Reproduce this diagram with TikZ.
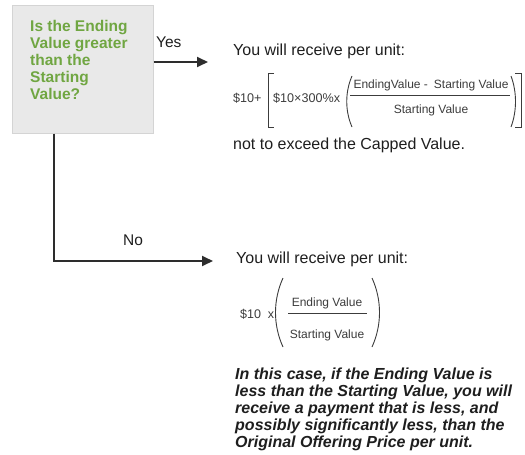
\documentclass[tikz,border=0pt]{standalone}
\usepackage{fontspec}
\setmainfont{Liberation Sans}
\usetikzlibrary{arrows.meta}
\definecolor{qgreen}{RGB}{112,166,66}
\definecolor{boxfill}{RGB}{233,233,233}
\definecolor{boxline}{RGB}{212,212,212}
\definecolor{ink}{RGB}{30,30,30}
\definecolor{fink}{RGB}{60,60,60}
\definecolor{arrowink}{RGB}{45,45,45}
\begin{document}
\begin{tikzpicture}[x=1pt,y=-1pt,inner sep=0pt,
  maintext/.style={font=\fontsize{16}{17}\selectfont, text=ink, inner sep=0pt},
  lbltext/.style={font=\fontsize{15.5}{17}\selectfont, text=ink, inner sep=0pt},
  frm/.style={font=\fontsize{12}{14}\selectfont, text=fink, inner sep=0pt},
  frmbig/.style={font=\fontsize{12.6}{15}\selectfont, text=fink, inner sep=0pt},
  conn/.style={draw=arrowink, line width=1.8pt, -{Triangle[length=11pt,width=10pt]}},
  delim/.style={draw=fink, line width=0.9pt}]
\useasboundingbox (0,0) rectangle (525,455);

% question box
\node[draw=boxline, fill=boxfill, line width=1pt, minimum width=141pt, minimum height=128pt] (q) at (82.5,69) {};
\node[anchor=north west, align=left, font=\bfseries\fontsize{15.5}{17}\selectfont, text=qgreen] (qt) at (30,20)
  {Is the Ending\\Value greater\\than the\\Starting\\Value?};

% yes branch
\coordinate (yestip) at (208,62);
\draw[conn] (q.east |- yestip) -- (yestip);
\node[lbltext, anchor=base west] (yes) at (156,47) {Yes};

% no branch
\coordinate (nocorner) at (54,261);
\coordinate (notip) at (213,261);
\draw[conn] (q.south -| nocorner) -- (nocorner) -- (notip);
\node[lbltext, anchor=base west] (no) at (123,245) {No};

% yes result
\node[maintext, anchor=base west] (y1) at (233,55) {You will receive per unit:};
\node[frmbig, anchor=base west] (f1a) at (233,102) {\$10+};
\draw[delim] (274,73) -- (268,73) -- (268,127) -- (274,127);
\node[frmbig, anchor=base west] (f1b) at (273,102) {\$10×300\%x};
\draw[delim] (352,76) .. controls (345,92) and (345,111) .. (352,127);
\node[frm, anchor=base] (n1) at (431,88) {EndingValue -\enspace Starting Value};
\draw[delim] (350,95) -- (510,95);
\node[frm, anchor=base] (d1) at (431,113) {Starting Value};
\draw[delim] (511,76) .. controls (517,92) and (517,111) .. (511,127);
\draw[delim] (515,73) -- (521,73) -- (521,127) -- (515,127);
\node[maintext, anchor=base west] (y2) at (233,149) {not to exceed the Capped Value.};

% no result
\node[maintext, anchor=base west] (n0) at (236,263) {You will receive per unit:};
\node[frm, anchor=base west, font=\fontsize{12.5}{14}\selectfont] (f2a) at (240,318) {\$10\ \ x};
\draw[delim] (283,278) .. controls (273,300) and (273,325) .. (283,347);
\node[frm, anchor=base] (n2) at (327,306) {Ending Value};
\draw[delim] (288,313) -- (367,313);
\node[frm, anchor=base] (d2) at (327,338) {Starting Value};
\draw[delim] (372,278) .. controls (382,300) and (382,325) .. (372,347);

\node[maintext, anchor=north west, align=left, font=\bfseries\itshape\fontsize{16}{17}\selectfont] (note) at (235,368)
  {In this case, if the Ending Value is\\less than the Starting Value, you will\\receive a payment that is less, and\\possibly significantly less, than the\\Original Offering Price per unit.};
\end{tikzpicture}
\end{document}
